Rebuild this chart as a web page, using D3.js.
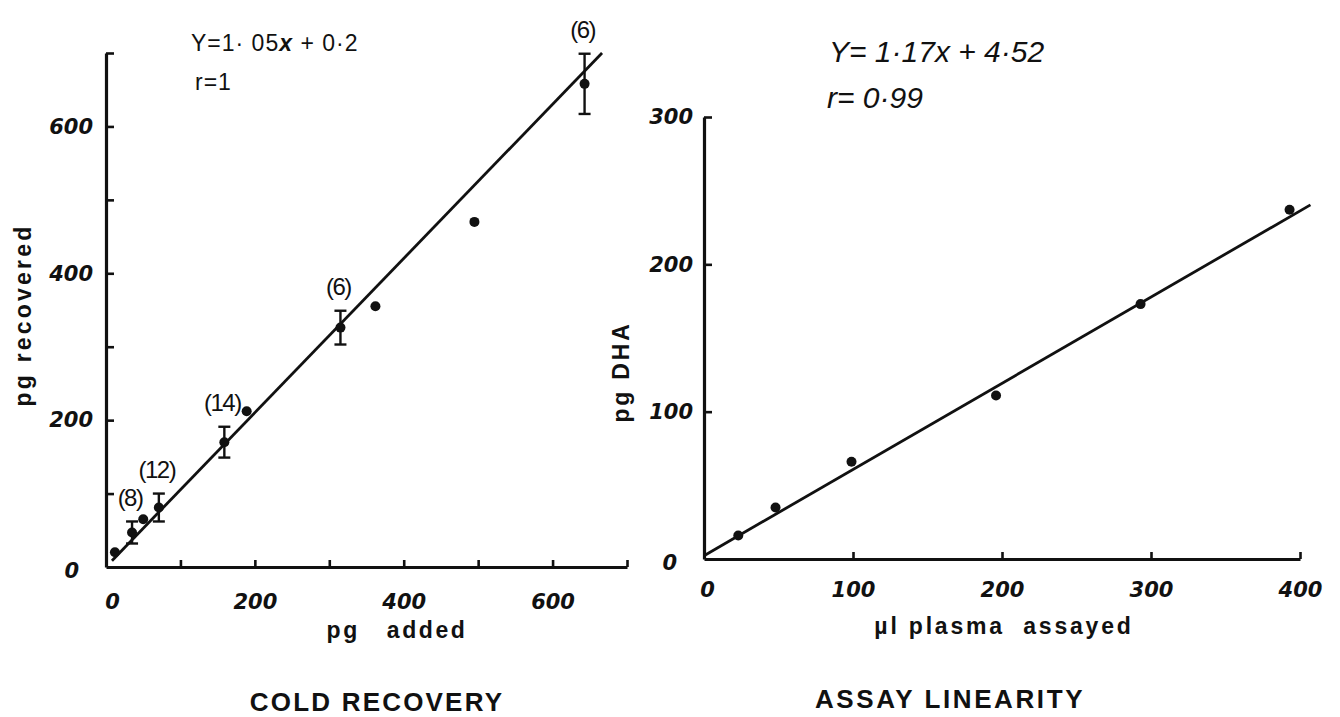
<!DOCTYPE html>
<html>
<head>
<meta charset="utf-8">
<script src="https://cdn.jsdelivr.net/npm/d3@7"></script>
<style>
  html, body { margin: 0; padding: 0; background: #fff; }
  svg { display: block; }
</style>
</head>
<body>
<svg id="fig" width="1340" height="717"></svg>
<script>
// ---- Cold recovery: pg added vs pg recovered (mean, ±SD where replicated) ----
const recAdded     = [12, 35, 50, 71, 159, 189, 315, 362, 495, 643];
const recRecovered = [20, 47, 65, 81, 170, 212, 326, 355, 470, 658];
const recSpread    = [0, 15, 0, 19, 21, 0, 23, 0, 0, 41];
const recCounts    = ["", "(8)", "", "(12)", "(14)", "", "(6)", "", "", "(6)"];
const recFit       = { slope: 1.05, intercept: 0.2 };
const recEquation  = ["Y=1· 05", "x", " + 0·2"];
const recCorr      = "r=1";
const recXTicks    = [0, 100, 200, 300, 400, 500, 600, 700];
const recYTicks    = [0, 100, 200, 300, 400, 500, 600, 700];
const recXLabels   = [0, 200, 400, 600];
const recYLabels   = [0, 200, 400, 600];

// ---- Assay linearity: plasma volume vs pg DHA ----
const linVolume  = [23, 48, 99, 196, 293, 393];
const linDHA     = [16, 35, 66, 111, 173, 237];
const linFit     = { slope: 0.585, intercept: 2.26, xMax: 407 }; // plotted units
const linEquation = "Y= 1·17x + 4·52";
const linCorr     = "r= 0·99";
const linXTicks  = [0, 100, 200, 300, 400];
const linYTicks  = [0, 100, 200, 300];

const svg = d3.select("#fig");
const INK = "#111";

const xL = d3.scaleLinear().domain([0, 700]).range([106, 627]);
const yL = d3.scaleLinear().domain([0, 700]).range([567, 53]);
const xR = d3.scaleLinear().domain([0, 400]).range([704, 1300]);
const yR = d3.scaleLinear().domain([0, 300]).range([559, 117]);

const tickFont = "'DejaVu Sans', sans-serif";
const titleFont = "'Liberation Sans', Arial, sans-serif";

function axes(x, y, xTicks, yTicks, xLabels, yLabels, xPad, yPad) {
  const gx = svg.append("g").attr("transform", `translate(0,${y(0)})`)
    .call(d3.axisBottom(x).tickValues(xTicks).tickSize(-7).tickSizeOuter(0)
      .tickPadding(xPad)
      .tickFormat(d => xLabels.includes(d) ? d : ""));
  const gy = svg.append("g").attr("transform", `translate(${x(0)},0)`)
    .call(d3.axisLeft(y).tickValues(yTicks).tickSize(-8).tickSizeOuter(0)
      .tickPadding(yPad)
      .tickFormat(d => yLabels.includes(d) ? d : ""));
  [gx, gy].forEach(g => {
    g.select(".domain").attr("stroke", INK).attr("stroke-width", 3.2);
    g.selectAll(".tick line").attr("stroke", INK).attr("stroke-width", 2.6);
    g.selectAll(".tick").filter(d => d === 0).select("line").remove();
    g.selectAll(".tick text")
      .attr("fill", INK)
      .style("font-family", tickFont)
      .style("font-style", "oblique")
      .style("font-weight", "bold")
      .style("font-size", "21px");
  });
  return { gx, gy };
}

// ---------- left panel ----------
const L = axes(xL, yL, recXTicks, recYTicks, recXLabels, recYLabels, 27, 13);
L.gx.selectAll(".tick text").filter(d => d === 0).attr("dx", 6);
L.gy.selectAll(".tick text").filter(d => d === 0).attr("dx", -14).attr("dy", "0.5em");

const recFitX0 = 8;
const recFitX1 = (yL.domain()[1] - recFit.intercept) / recFit.slope;
svg.append("path")
  .datum([recFitX0, recFitX1])
  .attr("fill", "none").attr("stroke", INK).attr("stroke-width", 2.8)
  .attr("d", d3.line().x(d => xL(d)).y(d => yL(recFit.slope * d + recFit.intercept)));

const rec = recAdded.map((a, i) => ({ x: a, y: recRecovered[i], s: recSpread[i], n: recCounts[i] }));
const errG = svg.append("g").attr("stroke", INK).attr("stroke-width", 2.4);
rec.filter(d => d.s > 0).forEach(d => {
  const cx = xL(d.x), t = yL(d.y + d.s), b = yL(d.y - d.s);
  errG.append("line").attr("x1", cx).attr("x2", cx).attr("y1", t).attr("y2", b);
  errG.append("line").attr("x1", cx - 6).attr("x2", cx + 6).attr("y1", t).attr("y2", t);
  errG.append("line").attr("x1", cx - 6).attr("x2", cx + 6).attr("y1", b).attr("y2", b);
});
svg.append("g").selectAll("circle").data(rec).join("circle")
  .attr("cx", d => xL(d.x)).attr("cy", d => yL(d.y)).attr("r", 5).attr("fill", INK);
svg.append("g").selectAll("text").data(rec.filter(d => d.n)).join("text")
  .attr("x", d => xL(d.x) - 2).attr("y", d => yL(d.y + d.s) - 24)
  .attr("text-anchor", "middle").attr("dominant-baseline", "central")
  .style("font-family", titleFont).style("font-size", "24px").attr("fill", INK)
  .attr("letter-spacing", "-1.5")
  .text(d => d.n);

const eqL = svg.append("text").attr("x", 191).attr("y", 51)
  .style("font-family", titleFont).style("font-size", "23px").attr("fill", INK)
  .attr("letter-spacing", "1");
eqL.append("tspan").text(recEquation[0]);
eqL.append("tspan").style("font-weight", "bold").style("font-style", "italic").text(recEquation[1]);
eqL.append("tspan").text(recEquation[2]);
svg.append("text").attr("x", 195).attr("y", 90)
  .style("font-family", titleFont).style("font-size", "23px").attr("fill", INK)
  .attr("letter-spacing", "1").text(recCorr);

svg.append("text").attr("transform", "translate(23,315) rotate(-90)")
  .attr("text-anchor", "middle").attr("dominant-baseline", "central")
  .style("font-family", titleFont).style("font-size", "23px").style("font-weight", "bold")
  .attr("letter-spacing", "3.2").attr("fill", INK).text("pg recovered");
svg.append("text").attr("x", 397).attr("y", 638).attr("text-anchor", "middle")
  .style("font-family", titleFont).style("font-size", "23px").style("font-weight", "bold")
  .attr("letter-spacing", "2.6").attr("fill", INK)
  .style("white-space", "pre").text("pg   added");
svg.append("text").attr("x", 377).attr("y", 711).attr("text-anchor", "middle")
  .style("font-family", titleFont).style("font-size", "26px").style("font-weight", "bold")
  .attr("letter-spacing", "2.2").attr("fill", INK).text("COLD RECOVERY");

// ---------- right panel ----------
const R = axes(xR, yR, linXTicks, linYTicks, linXTicks, linYTicks, 23, 11);
R.gx.selectAll(".tick text").filter(d => d === 0).attr("dx", 3);
R.gy.selectAll(".tick text").filter(d => d === 0).attr("dx", -16).attr("dy", "0.5em");

svg.append("path")
  .datum([0, linFit.xMax])
  .attr("fill", "none").attr("stroke", INK).attr("stroke-width", 2.8)
  .attr("d", d3.line().x(d => xR(d)).y(d => yR(linFit.slope * d + linFit.intercept)));

svg.append("g").selectAll("circle").data(linVolume.map((v, i) => ({ x: v, y: linDHA[i] }))).join("circle")
  .attr("cx", d => xR(d.x)).attr("cy", d => yR(d.y)).attr("r", 5).attr("fill", INK);

svg.append("text").attr("x", 829).attr("y", 62)
  .style("font-family", titleFont).style("font-style", "italic").style("font-size", "30px")
  .attr("fill", INK).text(linEquation);
svg.append("text").attr("x", 827).attr("y", 108)
  .style("font-family", titleFont).style("font-style", "italic").style("font-size", "30px")
  .attr("fill", INK).text(linCorr);

svg.append("text").attr("transform", "translate(621,372) rotate(-90)")
  .attr("text-anchor", "middle").attr("dominant-baseline", "central")
  .style("font-family", titleFont).style("font-size", "23px").style("font-weight", "bold")
  .attr("letter-spacing", "2.8").attr("fill", INK).text("pg DHA");
svg.append("text").attr("x", 1004).attr("y", 634).attr("text-anchor", "middle")
  .style("font-family", titleFont).style("font-size", "23px").style("font-weight", "bold")
  .attr("letter-spacing", "2.8").attr("fill", INK)
  .style("white-space", "pre").text("µl plasma  assayed");
svg.append("text").attr("x", 950).attr("y", 708).attr("text-anchor", "middle")
  .style("font-family", titleFont).style("font-size", "26px").style("font-weight", "bold")
  .attr("letter-spacing", "2.6").attr("fill", INK).text("ASSAY LINEARITY");
</script>
</body>
</html>
